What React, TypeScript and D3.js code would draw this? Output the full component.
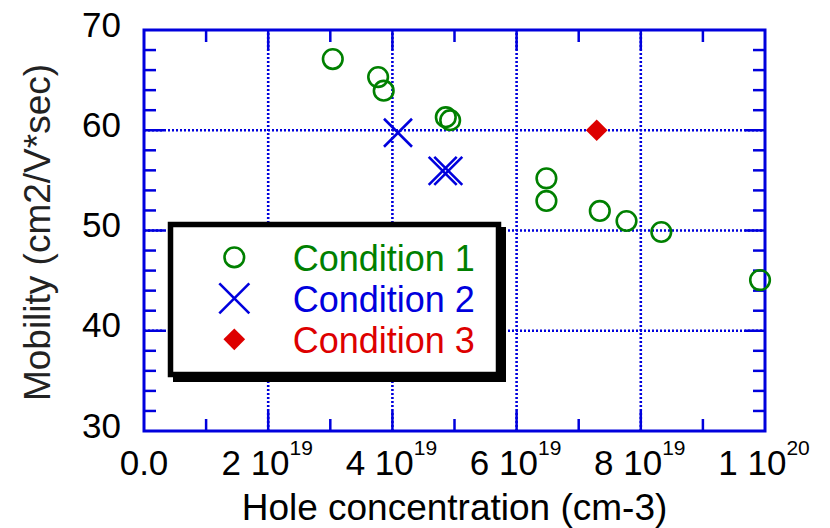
import React from 'react';
import * as d3 from 'd3';

// Hole concentration (cm-3) vs mobility, three measurement conditions
const cond1X = [3.04e19, 3.77e19, 3.86e19, 4.86e19, 4.93e19, 6.48e19, 6.48e19, 7.34e19, 7.77e19, 8.33e19, 9.92e19];
const cond1Y = [67.1, 65.3, 63.95, 61.3, 61.0, 55.2, 52.95, 51.95, 50.95, 49.85, 45.05];
const cond2X = [4.09e19, 4.81e19, 4.9e19];
const cond2Y = [59.75, 55.95, 55.95];
const cond3X = [7.29e19];
const cond3Y = [60.0];

const xMajorTicks = [0, 2e19, 4e19, 6e19, 8e19, 1e20];
const xTickMantissa = ['0.0', '2 10', '4 10', '6 10', '8 10', '1 10'];
const xTickExponent = ['', '19', '19', '19', '19', '20'];
const xMinorTicks = [1e19, 3e19, 5e19, 7e19, 9e19];
const yMajorTicks = [30, 40, 50, 60, 70];
const yMinorTicks = [32, 34, 36, 38, 42, 44, 46, 48, 52, 54, 56, 58, 62, 64, 66, 68];
const seriesNames = ['Condition 1', 'Condition 2', 'Condition 3'];

const GREEN = '#008000';
const BLUE = '#0000dd';
const RED = '#dd0000';
const FONT = '"Liberation Sans", Arial, sans-serif';

export default function App() {
  const width = 830;
  const height = 528;
  const x = d3.scaleLinear().domain([0, 1e20]).range([144, 765]);
  const y = d3.scaleLinear().domain([30, 70]).range([431, 30]);
  const [x0, x1] = x.range();
  const [y0, y1] = y.range();

  const diamond = d3.symbol().type(d3.symbolDiamond2).size(300)();

  const circle = (cx: number, cy: number, key: string | number) => (
    <circle key={key} cx={cx} cy={cy} r={9.8} fill="none" stroke={GREEN} strokeWidth={2.6} />
  );
  const cross = (cx: number, cy: number, key: string | number, s = 14) => (
    <path key={key} d={`M${cx - s},${cy - s}L${cx + s},${cy + s}M${cx - s},${cy + s}L${cx + s},${cy - s}`}
      stroke={BLUE} strokeWidth={2.6} fill="none" />
  );
  const diam = (cx: number, cy: number, key: string | number) => (
    <path key={key} d={diamond} transform={`translate(${cx},${cy})`} fill={RED} />
  );

  const legendX = 168;
  const legendY = 222;
  const legendW = 333;
  const legendH = 155;
  const rowY = [257.3, 298.3, 339.3];
  const seriesColors = [GREEN, BLUE, RED];

  return (
    <svg width={width} height={height} style={{ position: 'absolute', left: 0, top: 0, background: '#fff' }} fontFamily={FONT}>
      <rect width={width} height={height} fill="#fff" />
      {/* grid */}
      <g stroke={BLUE} strokeWidth={2.6} strokeDasharray="2,2">
        {xMajorTicks.slice(1, -1).map(t => (
          <line key={'gx' + t} x1={x(t)} x2={x(t)} y1={y0} y2={y1} />
        ))}
        {yMajorTicks.slice(1, -1).map(t => (
          <line key={'gy' + t} x1={x0} x2={x1} y1={y(t)} y2={y(t)} />
        ))}
      </g>
      {/* ticks, all inward */}
      <g stroke={BLUE} strokeWidth={2.5}>
        {xMajorTicks.slice(1, -1).map(t => (
          <g key={'tx' + t}>
            <line x1={x(t)} x2={x(t)} y1={y0} y2={y0 - 20} />
            <line x1={x(t)} x2={x(t)} y1={y1} y2={y1 + 20} />
          </g>
        ))}
        {xMinorTicks.map(t => (
          <g key={'mx' + t}>
            <line x1={x(t)} x2={x(t)} y1={y0} y2={y0 - 12} />
            <line x1={x(t)} x2={x(t)} y1={y1} y2={y1 + 12} />
          </g>
        ))}
        {yMajorTicks.slice(1, -1).map(t => (
          <g key={'ty' + t}>
            <line x1={x0} x2={x0 + 20} y1={y(t)} y2={y(t)} />
            <line x1={x1} x2={x1 - 20} y1={y(t)} y2={y(t)} />
          </g>
        ))}
        {yMinorTicks.map(t => (
          <g key={'my' + t}>
            <line x1={x0} x2={x0 + 12} y1={y(t)} y2={y(t)} />
            <line x1={x1} x2={x1 - 12} y1={y(t)} y2={y(t)} />
          </g>
        ))}
      </g>
      {/* frame */}
      <rect x={x0} y={y1} width={x1 - x0} height={y0 - y1} fill="none" stroke={BLUE} strokeWidth={3} />

      {/* data */}
      {cond1X.map((v, i) => circle(x(v), y(cond1Y[i]), 'c1' + i))}
      {cond2X.map((v, i) => cross(x(v), y(cond2Y[i]), 'c2' + i))}
      {cond3X.map((v, i) => diam(x(v), y(cond3Y[i]), 'c3' + i))}

      {/* tick labels */}
      <g fontSize={35} fill="#000">
        {yMajorTicks.map(t => (
          <text key={'ly' + t} x={121} y={y(t) + 6.5} textAnchor="end">{t}</text>
        ))}
        {xMajorTicks.map((t, i) => (
          <text key={'lx' + t} x={x(t) + (i === 0 ? 0 : -1)} y={475} textAnchor="middle">
            {xTickMantissa[i]}
            {xTickExponent[i] && <tspan fontSize={21} dy={-20}>{xTickExponent[i]}</tspan>}
          </text>
        ))}
      </g>

      {/* axis titles */}
      <text x={(x0 + x1) / 2} y={520} textAnchor="middle" fontSize={37} fill="#000">Hole concentration (cm-3)</text>
      <text transform={`translate(50,${(y0 + y1) / 2 + 2}) rotate(-90)`} textAnchor="middle" fontSize={37} fill="#222">
        Mobility (cm2/V*sec)
      </text>

      {/* legend */}
      <rect x={legendX + 5} y={legendY + 5} width={legendW} height={legendH} fill="#000" />
      <rect x={legendX + 2.5} y={legendY + 2.5} width={legendW - 5} height={legendH - 5} fill="#fff" stroke="#000" strokeWidth={5.5} />
      {seriesNames.map((name, i) => (
        <g key={name}>
          {i === 0 && circle(234.3, rowY[i], 'lg' + i)}
          {i === 1 && cross(234.3, rowY[i], 'lg' + i, 15)}
          {i === 2 && diam(234.3, rowY[i], 'lg' + i)}
          <text x={292.7} y={rowY[i] + 14} fontSize={36} fill={seriesColors[i]}>{name}</text>
        </g>
      ))}
    </svg>
  );
}
